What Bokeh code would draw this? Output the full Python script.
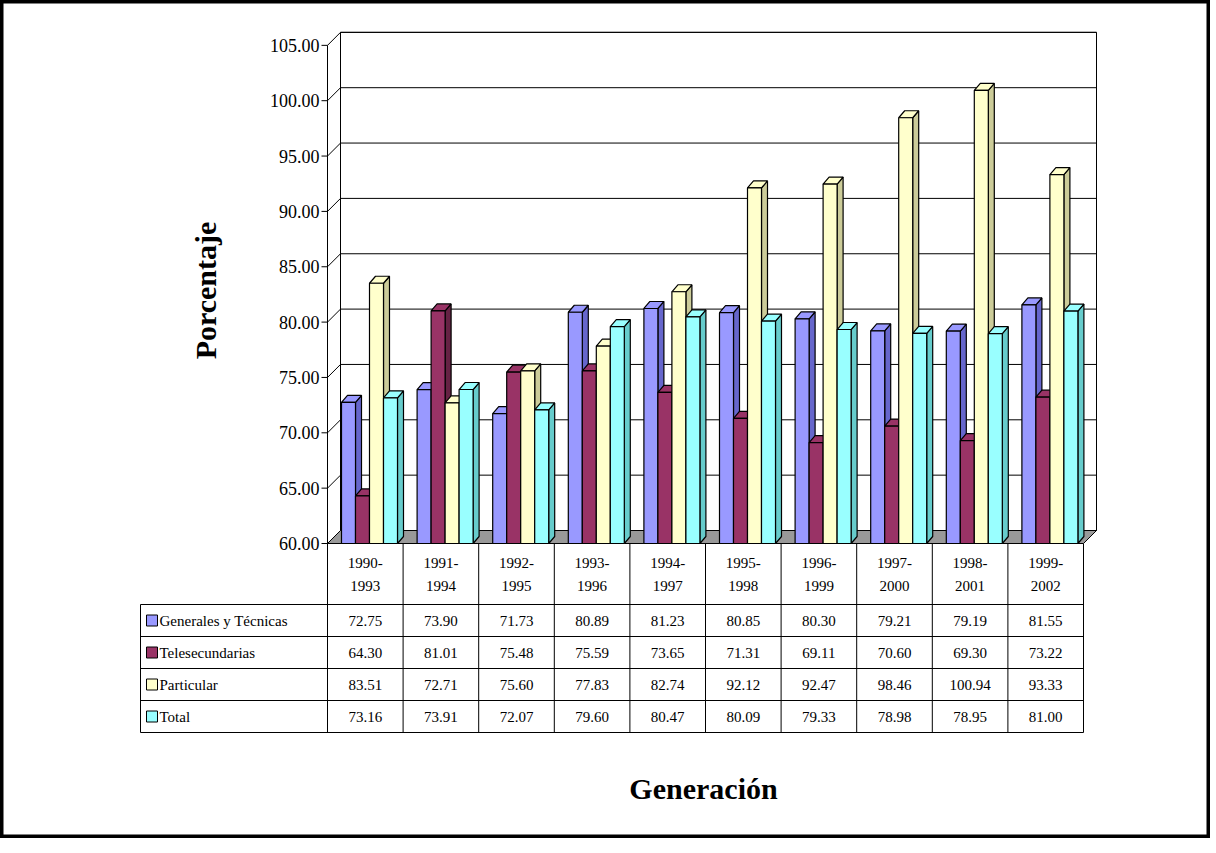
from bokeh.plotting import figure
from bokeh.embed import file_html
from bokeh.resources import INLINE
from bokeh.core.properties import value

categories = ["1990-\n1993","1991-\n1994","1992-\n1995","1993-\n1996","1994-\n1997","1995-\n1998","1996-\n1999","1997-\n2000","1998-\n2001","1999-\n2002"]
series_names = ["Generales y Técnicas","Telesecundarias","Particular","Total"]
generales = [72.75,73.90,71.73,80.89,81.23,80.85,80.30,79.21,79.19,81.55]
telesec = [64.30,81.01,75.48,75.59,73.65,71.31,69.11,70.60,69.30,73.22]
particular = [83.51,72.71,75.60,77.83,82.74,92.12,92.47,98.46,100.94,93.33]
total = [73.16,73.91,72.07,79.60,80.47,80.09,79.33,78.98,78.95,81.00]
series = [generales, telesec, particular, total]
yticks = [60,65,70,75,80,85,90,95,100,105]
colors = ["#9999FF","#993366","#FFFFCC","#99FFFF"]
side_colors = ["#6666CC","#662244","#CCCC99","#66CCCC"]

CW = 75.6; PY = 11.07
def fx(px): return (px-327)/CW
def fy(py): return 60-(py-543)/PY
dX = 13/CW; dY = 13/PY
bdx = 6/CW; bdy = 7/PY
FONT = value("Liberation Serif")

H = 838
p = figure(width=1210, height=H, x_range=(fx(0), fx(1210)), y_range=(fy(H), fy(0)),
           output_backend="svg", toolbar_location=None, min_border=0)
p.axis.visible = False
p.grid.visible = False
p.outline_line_color = "black"; p.outline_line_width = 6
p.background_fill_color = "white"

n = len(categories)
p.patch([dX, n+dX, n+dX, dX], [60+dY, 60+dY, 105+dY, 105+dY], fill_color="white", line_color="black", line_width=1)
for t in yticks:
    p.line([0, dX, n+dX], [t, t+dY, t+dY], line_color="black", line_width=1)
    p.line([-6/CW, 0], [t, t], line_color="black")
p.text([-8/CW]*len(yticks), yticks, text=[f"{t:.2f}" for t in yticks], text_align="right",
       text_baseline="middle", text_font=FONT, text_font_size="18px")
p.line([0,0],[60,105], line_color="black")
p.patch([0, dX, n+dX, n], [60, 60+dY, 60+dY, 60], fill_color="#999999", line_color="black")

bw = 14/CW
for i in range(n):
    for j, s in enumerate(series):
        v = s[i]
        x0 = i + (14+14*j)/CW; x1 = x0+bw
        p.patch([x1, x1+bdx, x1+bdx, x1], [60, 60+bdy, v+bdy, v], fill_color=side_colors[j], line_color="black", line_width=1.2)
        p.patch([x0, x0+bdx, x1+bdx, x1], [v, v+bdy, v+bdy, v], fill_color=colors[j], line_color="black", line_width=1.2)
        p.quad(left=x0, right=x1, bottom=60, top=v, fill_color=colors[j], line_color="black", line_width=1.2)

rows = [604, 636, 668, 700, 732]
for r in rows:
    p.line([fx(140), fx(1083)], [fy(r)]*2, line_color="black")
for k in range(n+1):
    p.line([k, k], [60, fy(732)], line_color="black")
p.line([fx(140)]*2, [fy(604), fy(732)], line_color="black")
cx = [i+0.5 for i in range(n)]
p.text(cx, [fy(562)]*n, text=[c.split("\n")[0] for c in categories], text_align="center", text_baseline="middle", text_font=FONT, text_font_size="15px")
p.text(cx, [fy(585)]*n, text=[c.split("\n")[1] for c in categories], text_align="center", text_baseline="middle", text_font=FONT, text_font_size="15px")
for j, s in enumerate(series):
    yc = fy((rows[j]+rows[j+1])/2)
    p.text(cx, [yc]*n, text=[f"{v:.2f}" for v in s], text_align="center", text_baseline="middle", text_font=FONT, text_font_size="15px")
    p.quad(left=fx(146), right=fx(157), bottom=yc-5.5/PY, top=yc+5.5/PY, fill_color=colors[j], line_color="black")
    p.text([fx(159)], [yc], text=[series_names[j]], text_baseline="middle", text_font=FONT, text_font_size="15px")

p.text([fx(205)], [fy(290)], text=["Porcentaje"], angle=1.5708, text_align="center", text_baseline="middle",
       text_font=FONT, text_font_size="30px", text_font_style="bold")
p.text([fx(703)], [fy(788)], text=["Generación"], text_align="center", text_baseline="middle",
       text_font=FONT, text_font_size="30px", text_font_style="bold")

open("out.html", "w").write(file_html(p, INLINE))
